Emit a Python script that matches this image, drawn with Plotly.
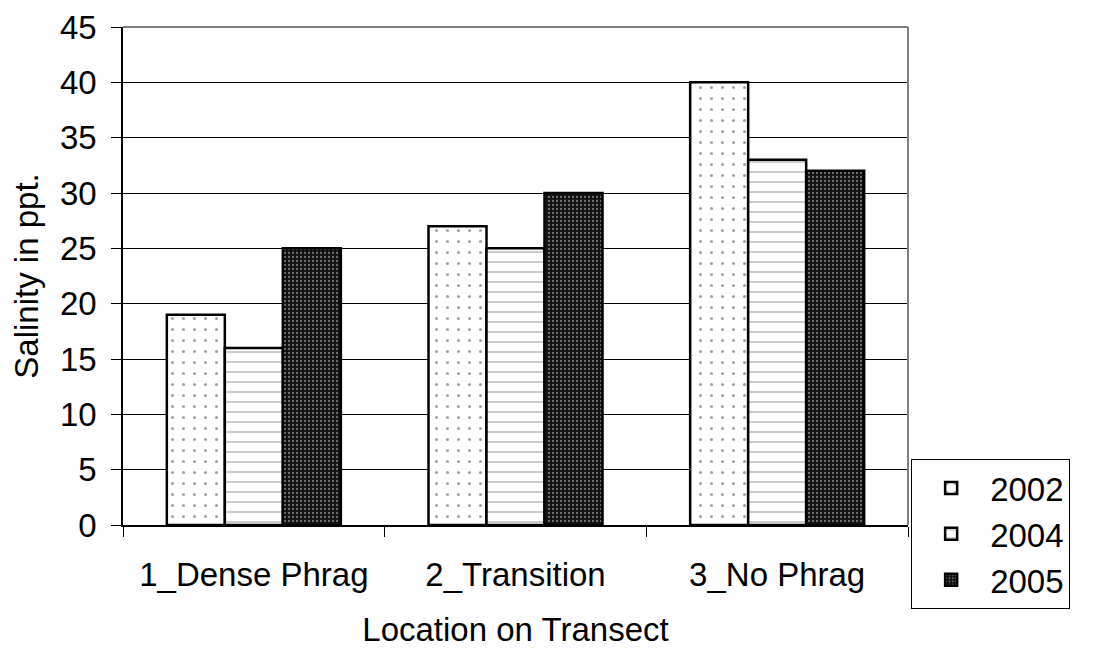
import plotly.graph_objects as go

categories = ["1_Dense Phrag", "2_Transition", "3_No Phrag"]
years = ["2002", "2004", "2005"]
values_2002 = [19, 27, 40]
values_2004 = [16, 25, 33]
values_2005 = [25, 30, 32]

FONT = "Liberation Sans, Arial, sans-serif"
FS = 33

fig = go.Figure()
fig.add_trace(go.Bar(
    name=years[0], x=categories, y=values_2002,
    marker=dict(color="white", line=dict(color="black", width=2.5),
                pattern=dict(shape=".", fgcolor="#444444", bgcolor="white",
                             size=11, solidity=0.06, fillmode="overlay")),
))
fig.add_trace(go.Bar(
    name=years[1], x=categories, y=values_2004,
    marker=dict(color="white", line=dict(color="black", width=2.5),
                pattern=dict(shape="-", fgcolor="#9a9a9a", bgcolor="white",
                             size=10, solidity=0.2, fillmode="overlay")),
))
fig.add_trace(go.Bar(
    name=years[2], x=categories, y=values_2005,
    marker=dict(color="#111111", line=dict(color="black", width=2.5),
                pattern=dict(shape=".", fgcolor="#d0d0d0", bgcolor="#111111",
                             size=4, solidity=0.25, fillmode="overlay")),
))

fig.update_layout(
    width=1092, height=640,
    margin=dict(l=115, r=192, t=19, b=123, autoexpand=False),
    paper_bgcolor="white", plot_bgcolor="white",
    font=dict(family=FONT, size=FS, color="black"),
    barmode="group", bargap=0.335, bargroupgap=0,
    showlegend=True,
    legend=dict(x=1.004, xanchor="left", y=0.1325, yanchor="top",
                bgcolor="white", bordercolor="black", borderwidth=1,
                itemwidth=68,
                font=dict(family=FONT, size=FS, color="black")),
    shapes=[
        dict(type="line", xref="paper", yref="paper", x0=0, x1=1, y0=1, y1=1,
             line=dict(color="#808080", width=2), layer="above"),
        dict(type="line", xref="paper", yref="paper", x0=1, x1=1, y0=0, y1=1,
             line=dict(color="#808080", width=2), layer="above"),
    ],
)
fig.update_xaxes(
    automargin=False,
    showline=True, linecolor="black", linewidth=1.5,
    ticks="outside", tickson="boundaries", ticklen=10, tickcolor="black",
    ticklabelstandoff=20,
    showgrid=False,
    title=dict(text="Location on Transect", font=dict(size=FS), standoff=30),
    tickfont=dict(size=FS),
)
fig.update_yaxes(
    automargin=False,
    range=[0, 45], dtick=5, tick0=0,
    showline=True, linecolor="black", linewidth=1.5,
    ticks="outside", ticklen=10, tickcolor="black",
    ticklabelstandoff=8,
    showgrid=True, gridcolor="black", gridwidth=1,
    zeroline=False,
    title=dict(text="Salinity in ppt.", font=dict(size=FS), standoff=14),
    tickfont=dict(size=FS),
)

fig.write_html("out.html")
